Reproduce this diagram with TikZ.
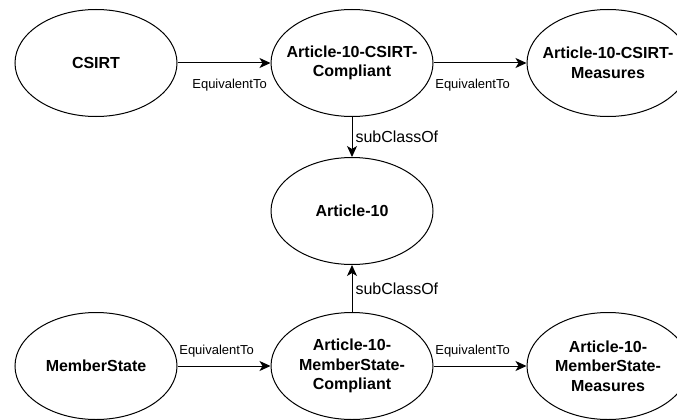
\documentclass[tikz,border=0pt]{standalone}
\usepackage{fontspec}
\setmainfont{Liberation Sans}
\usetikzlibrary{positioning}
\usetikzlibrary{shapes.geometric}
\usetikzlibrary{arrows.meta}
\tikzset{
  concept/.style={
    ellipse,
    draw,
    line width=1pt,
    minimum width=162pt,
    minimum height=107pt,
    inner xsep=-10pt,
    inner ysep=0pt,
    align=center,
    font=\fontsize{16}{19.5}\selectfont\bfseries},
}

\begin{document}
\begin{tikzpicture}[
  rel/.style={line width=1pt, -{Stealth[length=11pt, width=10pt, inset=3pt]}},
  eq/.style={font=\fontsize{13}{15}\selectfont, inner sep=1pt},
  sub/.style={font=\fontsize{16}{19}\selectfont, inner sep=1pt}
]
\useasboundingbox (0,0) rectangle (677pt,-420pt);

% Top row
\node[concept] (csirt) at (96pt,-63pt) {CSIRT};
\node[concept, right=93pt of csirt] (csirtc) {Article-10-CSIRT-\\Compliant};
\node[concept, right=93pt of csirtc] (csirtm) {Article-10-CSIRT-\\Measures};

% Middle
\node[concept, below=40pt of csirtc] (art10) {Article-10};

% Bottom row
\node[concept, below=47pt of art10] (msc) {Article-10-\\MemberState-\\Compliant};
\node[concept, left=93pt of msc] (ms) {MemberState};
\node[concept, right=93pt of msc] (msm) {Article-10-\\MemberState-\\Measures};

% Relations
\draw[rel] (csirt) -- node[eq, pos=.56, below=15pt] {EquivalentTo} (csirtc);
\draw[rel] (csirtc) -- node[eq, pos=.42, below=15pt] {EquivalentTo} (csirtm);
\draw[rel] (csirtc) -- node[sub, right=2pt] {subClassOf} (art10);
\draw[rel] (msc) -- node[sub, right=2pt] {subClassOf} (art10);
\draw[rel] (ms) -- node[eq, pos=.42, above=7pt] {EquivalentTo} (msc);
\draw[rel] (msc) -- node[eq, pos=.42, above=7pt] {EquivalentTo} (msm);
\end{tikzpicture}
\end{document}
